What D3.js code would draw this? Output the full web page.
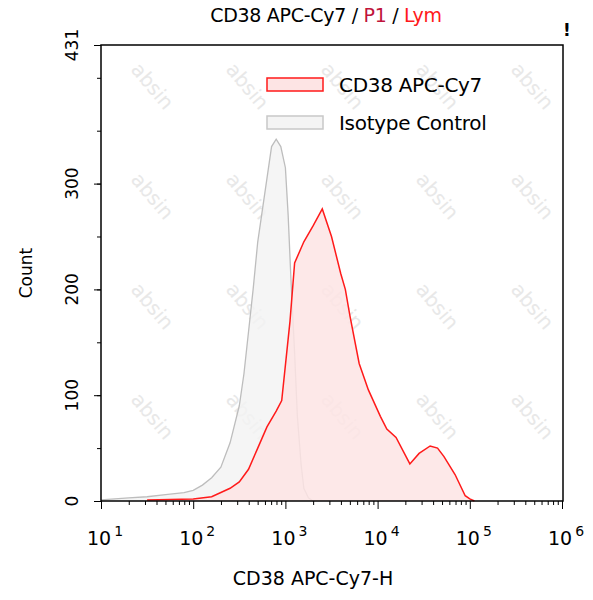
<!DOCTYPE html>
<html><head><meta charset="utf-8">
<script src="https://cdn.jsdelivr.net/npm/d3@7"></script>
<style>body{margin:0;background:#fff}text{font-family:"DejaVu Sans",Arial,sans-serif}</style>
</head><body><svg id="c" width="593" height="600"></svg>
<script>
// log10 positions and counts
const isoLog = [1.0,1.3,1.5,1.7,1.9,2.0,2.1,2.2,2.3,2.4,2.5,2.55,2.6,2.65,2.7,2.75,2.8,2.85,2.9,2.95,3.0,3.03,3.06,3.1,3.13,3.17,3.2,3.25,3.3];
const isoCount = [1,3,4,6,8,10,15,22,32,55,90,120,160,200,245,275,305,335,342,335,315,270,210,140,80,35,12,3,0];
const cdLog = [1.5,2.0,2.2,2.3,2.4,2.5,2.6,2.7,2.8,2.9,2.96,3.05,3.1,3.2,3.3,3.4,3.5,3.6,3.65,3.7,3.8,3.9,4.03,4.1,4.2,4.35,4.45,4.57,4.65,4.72,4.84,4.95,5.0,5.05];
const cdCount = [1,2,4,8,12,18,30,50,70,85,95,170,225,245,260,276,250,215,200,175,130,105,80,68,60,35,45,52,50,42,25,5,2,0];
const yTicks = [0,100,200,300,431];
const xTicks = [1,2,3,4,5,6];

const svg = d3.select("#c");
const x = d3.scaleLinear().domain([1,6]).range([101,562]);
const y = d3.scaleLinear().domain([0,431]).range([501,45]);

// watermark, kept inside the frame
for (let i=0;i<5;i++) for (let j=0;j<4;j++) {
    svg.append("text").attr("transform","translate("+(130+i*95)+","+(70+j*110)+")rotate(50)")
        .attr("fill","#e8e8e8").attr("font-size",20).text("absin");
}

const area = d3.area().x(d=>x(d[0])).y0(y(0)).y1(d=>y(d[1]));
const line = d3.line().x(d=>x(d[0])).y(d=>y(d[1]));
const iso = isoLog.map((v,i)=>[v,isoCount[i]]);
const cd = cdLog.map((v,i)=>[v,cdCount[i]]);
svg.append("path").attr("d",area(iso)).attr("fill","#f2f2f2").attr("opacity",0.8);
svg.append("path").attr("d",line(iso)).attr("fill","none").attr("stroke","#bdbdbd").attr("stroke-width",1.3);
svg.append("path").attr("d",area(cd)).attr("fill","#fde4e4").attr("opacity",0.85);
svg.append("path").attr("d",line(cd)).attr("fill","none").attr("stroke","#ff1a1a").attr("stroke-width",1.5);

// frame
svg.append("rect").attr("x",101).attr("y",45).attr("width",462).attr("height",456)
    .attr("fill","none").attr("stroke","#000").attr("stroke-width",1.5);

// y axis
svg.append("g").attr("transform","translate(101,0)")
    .call(d3.axisLeft(y).tickValues(d3.range(0,431,50)).tickSize(4).tickFormat(""))
    .call(g=>g.select(".domain").remove());
svg.append("g").attr("transform","translate(101,0)")
    .call(d3.axisLeft(y).tickValues(yTicks).tickSize(7).tickFormat(""))
    .call(g=>g.select(".domain").remove());
yTicks.forEach(t=>{
    svg.append("text").attr("transform","translate(78,"+y(t)+")rotate(-90)")
        .attr("text-anchor","middle").attr("font-size",17).text(t);
});
svg.append("text").attr("transform","translate(32,273)rotate(-90)")
    .attr("text-anchor","middle").attr("font-size",17).text("Count");

// x axis (log decades, minor ticks)
const minor = [];
for (let d=1; d<6; d++) for (let k=2;k<10;k++) minor.push(d+Math.log10(k));
svg.append("g").attr("transform","translate(0,501)")
    .call(d3.axisBottom(x).tickValues(minor).tickSize(4).tickFormat(""))
    .call(g=>g.select(".domain").remove());
svg.append("g").attr("transform","translate(0,501)")
    .call(d3.axisBottom(x).tickValues(xTicks).tickSize(8).tickFormat(""))
    .call(g=>g.select(".domain").remove());
xTicks.forEach(t=>{
    const tx = svg.append("text").attr("x",x(t)+4).attr("y",545).attr("text-anchor","middle").attr("font-size",19);
    tx.append("tspan").text("10");
    tx.append("tspan").attr("dy",-9).attr("font-size",14).attr("dx",3).text(t);
});
svg.append("text").attr("x",313).attr("y",585).attr("text-anchor","middle").attr("font-size",19).text("CD38 APC-Cy7-H");

// title
const ti = svg.append("text").attr("x",326).attr("y",22).attr("text-anchor","middle").attr("font-size",19).attr("letter-spacing",-0.3);
ti.append("tspan").text("CD38 APC-Cy7 / ");
ti.append("tspan").attr("fill","#c0143c").text("P1");
ti.append("tspan").text(" / ");
ti.append("tspan").attr("fill","#ff1a1a").text("Lym");
svg.append("text").attr("x",567).attr("y",36).attr("text-anchor","middle").attr("font-size",17).attr("font-weight","bold").text("!");

// legend
svg.append("rect").attr("x",267).attr("y",78).attr("width",56).attr("height",13).attr("fill","#fde4e4").attr("stroke","#ff1a1a").attr("stroke-width",1.5);
svg.append("text").attr("x",339).attr("y",92).attr("font-size",20).attr("letter-spacing",-0.3).text("CD38 APC-Cy7");
svg.append("rect").attr("x",267).attr("y",116).attr("width",56).attr("height",13).attr("fill","#f4f4f4").attr("stroke","#c8c8c8").attr("stroke-width",1.5);
svg.append("text").attr("x",339).attr("y",130).attr("font-size",20).attr("letter-spacing",-0.3).text("Isotype Control");
</script></body></html>
